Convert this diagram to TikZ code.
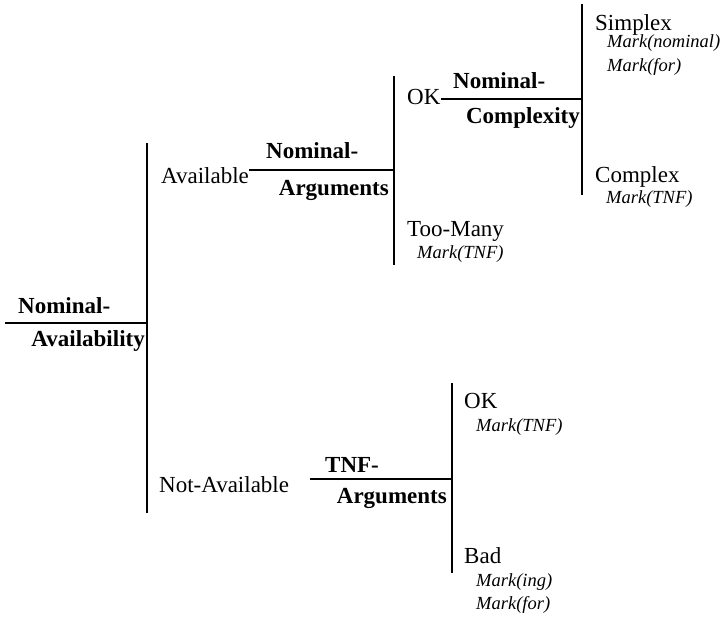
\documentclass[tikz,border=0pt]{standalone}
\usepackage{fontspec}
\setmainfont{Liberation Serif}
\usetikzlibrary{calc}

\begin{document}
\begin{tikzpicture}[x=1pt,y=-1pt]
    \tikzstyle{l}=[line width=2pt]
    \tikzstyle{t}=[inner sep=0pt, font=\fontsize{23}{27}\selectfont]
    \tikzstyle{b}=[inner sep=0pt, font=\fontsize{23}{27}\selectfont\bfseries]
    \tikzstyle{m}=[inner sep=0pt, font=\fontsize{18.5}{22}\selectfont\itshape]

    \useasboundingbox (0,0) rectangle (722,616);

    % nominal availability
    \coordinate (root_start) at (5,323);
    \coordinate (root_mid) at (147,323);
    \coordinate (root_top) at (147,143);
    \coordinate (root_bot) at (147,513);
    \node[b, anchor=base west] (root_1) at (18,313) {Nominal-};
    \node[b, anchor=base east] (root_2) at ($(root_mid) + (-2,23)$) {Availability};

    \draw[l] (root_start) -- (root_mid);
    \draw[l] (root_top) -- (root_bot);

    % available
    \node[t, anchor=base west] (avail) at (161,183) {Available};

    % nominal arguments
    \coordinate (args_mid) at (394,170);
    \coordinate (args_top) at (394,76);
    \coordinate (args_bot) at (394,265);
    \node[b, anchor=base west] (args_1) at (266,158) {Nominal-};
    \node[b, anchor=base east] (args_2) at ($(args_mid) + (-5,25)$) {Arguments};

    \draw[l] (avail.east |- args_mid) -- (args_mid);
    \draw[l] (args_top) -- (args_bot);

    % ok
    \node[t, anchor=base west] (ok_1) at (407,104) {OK};

    % nominal complexity
    \coordinate (cplx_mid) at (582,99);
    \coordinate (cplx_top) at (582,4);
    \coordinate (cplx_bot) at (582,195);
    \node[b, anchor=base west] (cplx_1) at (453,88) {Nominal-};
    \node[b, anchor=base east] (cplx_2) at ($(cplx_mid) + (-2,24)$) {Complexity};

    \draw[l] (ok_1.east |- cplx_mid) -- (cplx_mid);
    \draw[l] (cplx_top) -- (cplx_bot);

    % simplex
    \node[t, anchor=base west] (simplex) at (595,30) {Simplex};
    \node[m, anchor=base west] (simplex_m1) at (607,47) {Mark(nominal)};
    \node[m, anchor=base west] (simplex_m2) at (607,71) {Mark(for)};

    % complex
    \node[t, anchor=base west] (complex) at (595,182) {Complex};
    \node[m, anchor=base west] (complex_m) at (606,203) {Mark(TNF)};

    % too many
    \node[t, anchor=base west] (toomany) at (407,236) {Too-Many};
    \node[m, anchor=base west] (toomany_m) at (417,258) {Mark(TNF)};

    % not available
    \node[t, anchor=base west] (notavail) at (159,492) {Not-Available};

    % tnf arguments
    \coordinate (tnf_start) at (310,479);
    \coordinate (tnf_mid) at (452,479);
    \coordinate (tnf_top) at (452,383);
    \coordinate (tnf_bot) at (452,573);
    \node[b, anchor=base west] (tnf_1) at (325,472) {TNF-};
    \node[b, anchor=base east] (tnf_2) at ($(tnf_mid) + (-5,24)$) {Arguments};

    \draw[l] (tnf_start) -- (tnf_mid);
    \draw[l] (tnf_top) -- (tnf_bot);

    % ok
    \node[t, anchor=base west] (ok_2) at (464,408) {OK};
    \node[m, anchor=base west] (ok_2_m) at (476,431) {Mark(TNF)};

    % bad
    \node[t, anchor=base west] (bad) at (464,563) {Bad};
    \node[m, anchor=base west] (bad_m1) at (476,586) {Mark(ing)};
    \node[m, anchor=base west] (bad_m2) at (476,609) {Mark(for)};

\end{tikzpicture}
\end{document}
